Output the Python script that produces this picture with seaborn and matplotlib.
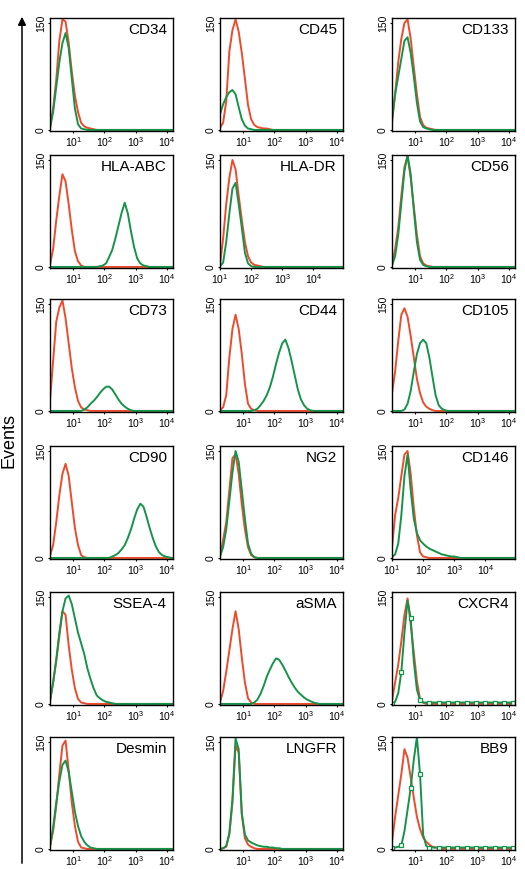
import numpy as np
import pandas as pd
import matplotlib
matplotlib.use("Agg")
import matplotlib.pyplot as plt
import seaborn as sns
from matplotlib.patches import FancyArrowPatch
from matplotlib.ticker import NullLocator


# panel names, row by row (3 per row)
MARKERS = [
    "CD34", "CD45", "CD133",
    "HLA-ABC", "HLA-DR", "CD56",
    "CD73", "CD44", "CD105",
    "CD90", "NG2", "CD146",
    "SSEA-4", "aSMA", "CXCR4",
    "Desmin", "LNGFR", "BB9",
]
# log10 value at the left edge of each panel (HLA-DR and CD146 are labelled from 10^1)
LOG_MIN = [
    0.25, 0.25, 0.25,
    0.25, 1.0, 0.25,
    0.25, 0.25, 0.25,
    0.25, 0.25, 1.0,
    0.25, 0.25, 0.25,
    0.25, 0.25, 0.25,
]
TICK_DECADES = [1, 2, 3, 4]
Y_TICKS = [0, 150]

BIN_STEP = 0.1
AXIS_SPAN = 3.95

# isotype control (red), starts at the left edge
RED_COUNTS = [
    [5, 30, 70, 125, 155, 152, 122, 82, 48, 25, 10, 5, 3, 2, 1, 0],
    [3, 10, 40, 110, 140, 155, 138, 108, 72, 35, 15, 7, 4, 3, 2, 2, 1, 0],
    [10, 50, 95, 128, 150, 155, 128, 88, 50, 18, 7, 3, 2, 1, 0],
    [3, 25, 65, 100, 130, 120, 88, 52, 22, 8, 2, 0],
    [3, 40, 88, 125, 150, 137, 100, 66, 35, 15, 6, 3, 2, 1, 0],
    [3, 25, 55, 100, 140, 155, 125, 85, 45, 15, 5, 2, 1, 0],
    [15, 70, 125, 145, 155, 130, 95, 60, 33, 14, 5, 2, 1, 0],
    [1, 5, 22, 75, 115, 135, 115, 80, 38, 10, 3, 1, 0],
    [25, 55, 98, 135, 144, 132, 105, 75, 45, 25, 12, 6, 3, 1, 0],
    [3, 18, 50, 88, 118, 132, 115, 78, 42, 18, 4, 1, 0],
    [2, 25, 50, 95, 140, 145, 118, 75, 40, 15, 4, 1, 0],
    [15, 60, 84, 115, 145, 150, 118, 70, 32, 8, 2, 1, 0],
    [3, 30, 60, 95, 130, 125, 82, 48, 22, 7, 2, 1, 0],
    [2, 18, 45, 75, 105, 130, 105, 65, 30, 8, 2, 0],
    [5, 30, 55, 88, 125, 148, 112, 72, 32, 7, 2, 0],
    [3, 25, 60, 105, 145, 152, 110, 65, 32, 10, 2, 1, 0],
    [0, 1, 3, 20, 65, 145, 135, 48, 15, 6, 3, 1, 0],
    [10, 45, 75, 105, 140, 128, 100, 72, 45, 28, 16, 10, 6, 3, 2, 1, 0],
]

# antibody staining (green): first bin position (decades from left edge) and counts
GREEN_START = [
    0.0, 0.0, 0.0,
    1.5, 0.0, 0.0,
    1.0, 1.0, 0.3,
    1.9, 0.0, 0.0,
    0.0, 1.0, 0.0,
    0.0, 0.0, 0.0,
]
GREEN_COUNTS = [
    [2, 25, 60, 95, 122, 136, 115, 72, 30, 8, 2, 1, 0],
    [22, 36, 46, 53, 56, 50, 32, 15, 6, 2, 1, 0],
    [15, 50, 75, 100, 125, 130, 108, 75, 38, 12, 4, 2, 1, 0],
    [0, 1, 2, 5, 14, 24, 40, 58, 76, 90, 75, 50, 28, 12, 5, 2, 1, 0],
    [1, 6, 35, 75, 110, 118, 88, 55, 20, 5, 1, 0],
    [2, 15, 45, 90, 135, 157, 130, 80, 35, 10, 3, 1, 0],
    [0, 2, 5, 10, 14, 19, 25, 30, 34, 34, 30, 23, 16, 10, 6, 3, 1, 0],
    [0, 1, 3, 8, 14, 22, 33, 48, 66, 82, 95, 100, 88, 70, 50, 30, 16, 8, 3, 1, 0],
    [0, 2, 10, 28, 55, 80, 95, 100, 95, 75, 48, 22, 8, 3, 1, 0],
    [0, 2, 4, 7, 12, 18, 28, 40, 55, 68, 76, 72, 58, 42, 28, 16, 8, 4, 2, 1, 0],
    [2, 15, 40, 80, 120, 150, 135, 95, 55, 20, 6, 1, 0],
    [1, 5, 20, 60, 115, 145, 95, 55, 35, 25, 20, 16, 13, 11, 9, 7, 5, 4, 3, 2, 2, 1, 0],
    [5, 30, 62, 100, 130, 148, 152, 140, 120, 100, 85, 70, 50, 35, 22, 12, 8, 5, 3, 2, 1, 0],
    [0, 2, 6, 14, 25, 38, 48, 57, 64, 62, 55, 47, 38, 30, 23, 17, 13, 9, 6, 4, 2, 1, 0],
    [0, 3, 15, 45, 100, 145, 120, 60, 20, 5, 2],
    [4, 30, 65, 95, 118, 124, 108, 80, 52, 32, 18, 10, 5, 2, 1, 0],
    [0, 1, 4, 22, 70, 155, 140, 50, 20, 12, 9, 7, 5, 4, 3, 3, 2, 2, 1, 1, 0],
    [2, 2, 3, 5, 25, 55, 85, 125, 157, 105, 20, 4, 2],
]
OPEN_SQUARE_PANELS = ["CXCR4", "BB9"]

RED = "#ec4b2c"
GREEN = "#16934a"

FIG_W, FIG_H = 525, 869
COL_LEFT = [50, 220, 392]
ROW_TOP = [18, 155, 299, 446, 592, 737]
AX_W, AX_H = 123, 113


def curve_frame(counts, start, log_min):
    rel = [start + i * BIN_STEP for i in range(len(counts))]
    vals = list(counts)
    # histogram stays flat on its last value up to the right edge
    while rel[-1] < AXIS_SPAN:
        rel.append(rel[-1] + BIN_STEP)
        vals.append(vals[-1])
    if start > 0:
        rel.insert(0, 0.0)
        vals.insert(0, vals[0])
    return pd.DataFrame({"x": 10 ** (log_min + np.array(rel)), "events": vals})


def draw_panel(fig, idx):
    name = MARKERS[idx]
    lm = LOG_MIN[idx]
    row, col = divmod(idx, 3)
    left = COL_LEFT[col] / FIG_W
    bottom = 1 - (ROW_TOP[row] + AX_H) / FIG_H
    ax = fig.add_axes([left, bottom, AX_W / FIG_W, AX_H / FIG_H])

    red_df = curve_frame(RED_COUNTS[idx], 0.0, lm)
    green_df = curve_frame(GREEN_COUNTS[idx], GREEN_START[idx], lm)

    sns.lineplot(data=red_df, x="x", y="events", ax=ax, color=RED,
                 linewidth=1.4, estimator=None, sort=False)
    extra = {}
    if name in OPEN_SQUARE_PANELS:
        extra = dict(marker="s", markevery=3, markersize=3.2,
                     markerfacecolor="white", markeredgecolor=GREEN,
                     markeredgewidth=0.9)
    sns.lineplot(data=green_df, x="x", y="events", ax=ax, color=GREEN,
                 linewidth=1.4, estimator=None, sort=False, **extra)

    ax.set_xscale("log")
    ax.set_xlim(10 ** lm, 10 ** (lm + AXIS_SPAN))
    ax.set_ylim(-1.5, 157)
    ax.set_xticks([10 ** d for d in TICK_DECADES])
    ax.set_xticklabels([f"$10^{{{d}}}$" for d in TICK_DECADES])
    ax.xaxis.set_minor_locator(NullLocator())
    ax.set_yticks(Y_TICKS)
    ax.set_yticklabels([str(v) for v in Y_TICKS], rotation=90, va="center")
    ax.tick_params(length=1.5, width=0.8, labelsize=7.5, pad=1.5,
                   colors="black", labelcolor="black")
    ax.set_xlabel("")
    ax.set_ylabel("")
    for sp in ax.spines.values():
        sp.set_visible(True)
        sp.set_color("black")
        sp.set_linewidth(1.0)
    ax.text(0.95, 0.955, name, transform=ax.transAxes, ha="right", va="top",
            fontsize=11, color="black")


def main():
    sns.set_style("ticks")
    plt.rcParams["font.family"] = ["Liberation Sans", "DejaVu Sans"]
    plt.rcParams["mathtext.fontset"] = "custom"
    plt.rcParams["mathtext.rm"] = "Liberation Sans"
    plt.rcParams["mathtext.it"] = "Liberation Sans"
    plt.rcParams["text.color"] = "black"

    fig = plt.figure(figsize=(FIG_W / 100, FIG_H / 100), dpi=100)
    for i in range(len(MARKERS)):
        draw_panel(fig, i)

    arrow = FancyArrowPatch((22 / FIG_W, 1 - 866 / FIG_H), (22 / FIG_W, 1 - 14 / FIG_H),
                            transform=fig.transFigure, arrowstyle="-|>",
                            mutation_scale=12, linewidth=1.1, color="black")
    fig.add_artist(arrow)
    fig.text(9 / FIG_W, 1 - 440 / FIG_H, "Events", rotation=90,
             ha="center", va="center", fontsize=13, color="black")

    fig.savefig("out.png", dpi=100)


if __name__ == "__main__":
    main()
